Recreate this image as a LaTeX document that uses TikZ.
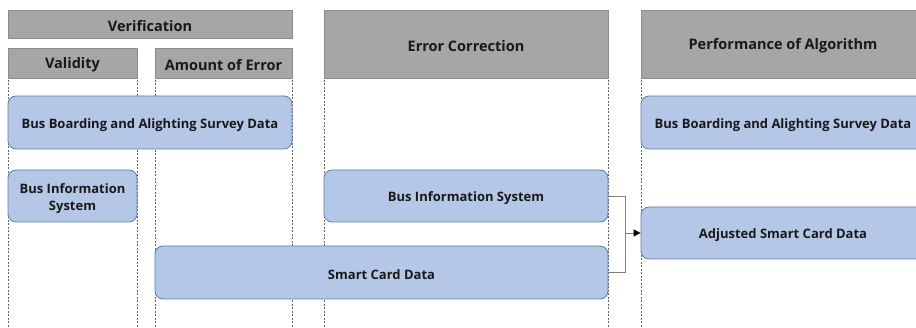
\documentclass[tikz,border=0pt]{standalone}
\usepackage{fontspec}
\setmainfont{Open Sans}
\usetikzlibrary{arrows.meta}
\definecolor{hdrfill}{HTML}{A6A6A6}
\definecolor{hdrline}{HTML}{8C8C8C}
\definecolor{boxfill}{HTML}{B4C7E7}
\definecolor{boxline}{HTML}{5B7FA8}
\definecolor{conn}{HTML}{7F7F7F}
\begin{document}
\begin{tikzpicture}[x=1pt,y=-1pt,
  hdr/.style={draw=hdrline,fill=hdrfill,line width=0.8pt},
  hdrtext/.style={font=\fontsize{14.5}{17}\selectfont\bfseries,text=black!90,yshift=-2pt},
  databox/.style={draw=boxline,fill=boxfill,line width=0.8pt,rounded corners=8pt},
  boxtext/.style={font=\fontsize{13}{17}\selectfont\bfseries,align=center,text=black!90,yshift=-2.5pt},
  guide/.style={draw=black!60,line width=0.5pt,dash pattern=on 2pt off 1.5pt},
  link/.style={draw=conn,line width=0.8pt}]
\useasboundingbox (0,0) rectangle (916,328);
\clip (0,0) rectangle (916,328);
% guide lines
\foreach \gx in {8,137,155,292,324,608,641}{
  \draw[guide] (\gx,80) -- (\gx,328);
}
% headers
\path[hdr] (8,10) rectangle (292,38);
\node[hdrtext] (ver) at (150,24) {Verification};
\path[hdr] (8,48) rectangle (137,78);
\node[hdrtext] (val) at (72.5,63) {Validity};
\path[hdr] (155,48) rectangle (292,78);
\node[hdrtext] (aoe) at (223.5,63) {Amount of Error};
\path[hdr] (324,10) rectangle (608,78);
\node[hdrtext] (ec) at (466,44) {Error Correction};
\path[hdr] (641,10) rectangle (925,78);
\node[hdrtext] (poa) at (783,44) {Performance of Algorithm};
% data boxes
\node[databox,minimum width=284pt,minimum height=53pt] (bbl) at (150,122.5) {};
\node[boxtext] (bblt) at (bbl.center) {Bus Boarding and Alighting Survey Data};
\node[databox,minimum width=129pt,minimum height=52pt] (bisl) at (72.5,196) {};
\node[boxtext] (bislt) at (bisl.center) {Bus Information\\System};
\node[databox,minimum width=284pt,minimum height=52pt] (bism) at (466,196) {};
\node[boxtext] (bismt) at (bism.center) {Bus Information System};
\node[databox,minimum width=453pt,minimum height=53pt] (scd) at (381.5,272.5) {};
\node[boxtext] (scdt) at (scd.center) {Smart Card Data};
\node[databox,minimum width=284pt,minimum height=53pt] (bbr) at (783,122.5) {};
\node[boxtext] (bbrt) at (bbr.center) {Bus Boarding and Alighting Survey Data};
\node[databox,minimum width=284pt,minimum height=52pt] (adj) at (783,233) {};
\node[boxtext] (adjt) at (adj.center) {Adjusted Smart Card Data};
% connectors
\coordinate (j) at (625,233);
\draw[link] (bism.east) -| (j);
\draw[link] (scd.east) -| (j);
\draw[link,-{Triangle[color=black,length=7pt,width=7pt]}] (j) -- (adj.west);
\end{tikzpicture}
\end{document}
